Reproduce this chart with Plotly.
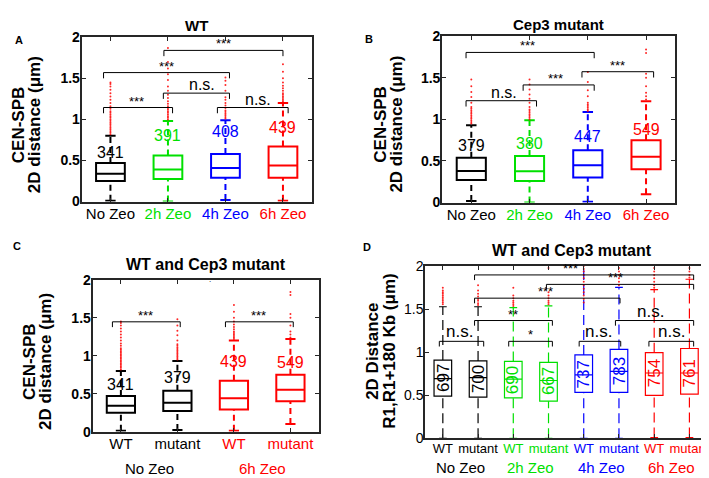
import plotly.graph_objects as go

W, H = 709, 478
FONT = "Liberation Sans, Arial, Helvetica, sans-serif"

# ---------------- DATA ----------------
BLACK, GREEN, BLUE, RED = "#000000", "#00e000", "#0000ff", "#ff0000"

# Panel A (WT): No Zeo, 2h, 4h, 6h
a_labels = ["No Zeo", "2h Zeo", "4h Zeo", "6h Zeo"]
a_colors = [BLACK, GREEN, BLUE, RED]
a_q1 = [0.25, 0.275, 0.29, 0.29]
a_med = [0.34, 0.39, 0.41, 0.44]
a_q3 = [0.47, 0.56, 0.58, 0.67]
a_lo = [0.01, 0.0, 0.02, 0.01]
a_hi = [0.80, 0.98, 0.99, 1.20]
a_n = ["341", "391", "408", "439"]
a_ny = [0.60, 0.80, 0.85, 0.90]
a_out = [
    [0.82, 0.84, 0.86, 0.88, 0.9, 0.92, 0.94, 0.96, 0.98, 1.0, 1.02, 1.04, 1.06, 1.08, 1.1,
     1.13, 1.16, 1.2, 1.24, 1.28, 1.32, 1.36, 1.4, 1.43, 1.45],
    [1.0, 1.02, 1.04, 1.06, 1.08, 1.1, 1.12, 1.14, 1.16, 1.19, 1.22, 1.26, 1.3, 1.35, 1.4,
     1.48, 1.55, 1.62, 1.7, 1.87],
    [1.01, 1.03, 1.05, 1.07, 1.09, 1.11, 1.14, 1.17, 1.2, 1.24, 1.27, 1.35, 1.42, 1.47, 1.51],
    [1.22, 1.24, 1.26, 1.28, 1.3, 1.32, 1.35, 1.38, 1.41, 1.45, 1.5, 1.58, 1.67],
]
# brackets: (x_start, x_end, y, label, label_x)
a_brackets = [
    (0.88, 2.08, 1.145, "***", 1.45),
    (0.88, 3.07, 1.57, "***", 1.97),
    (1.92, 3.07, 1.32, "n.s.", 2.6),
    (2.86, 4.09, 1.145, "n.s.", 3.56),
    (1.93, 4.0, 1.84, "***", 2.96),
]

# Panel B (Cep3 mutant)
b_labels = a_labels
b_colors = a_colors
b_q1 = [0.27, 0.26, 0.30, 0.40]
b_med = [0.38, 0.376, 0.45, 0.55]
b_q3 = [0.54, 0.56, 0.63, 0.75]
b_lo = [0.02, 0.0, 0.01, 0.10]
b_hi = [0.93, 0.99, 1.09, 1.22]
b_n = ["379", "380", "447", "549"]
b_ny = [0.69, 0.71, 0.80, 0.88]
b_out = [
    [0.95, 0.97, 0.99, 1.01, 1.03, 1.05, 1.07, 1.09, 1.11, 1.13, 1.15, 1.2, 1.27, 1.33, 1.4, 1.48],
    [1.0, 1.02, 1.04, 1.06, 1.08, 1.1, 1.12, 1.15, 1.2, 1.25, 1.3, 1.36, 1.42, 1.48],
    [1.1, 1.12, 1.14, 1.16, 1.18, 1.2, 1.28, 1.35, 1.45, 1.57],
    [1.24, 1.28, 1.32, 1.4, 1.5, 1.55, 1.8, 1.84],
]
b_brackets = [
    (0.91, 3.11, 1.806, "***", 1.97),
    (0.91, 2.12, 1.225, "n.s.", 1.57),
    (1.89, 3.11, 1.415, "***", 2.45),
    (2.90, 4.13, 1.574, "***", 3.51),
]

# Panel C (WT and Cep3 mutant: No Zeo WT, No Zeo mutant, 6h WT, 6h mutant)
c_labels = ["WT", "mutant", "WT", "mutant"]
c_colors = [BLACK, BLACK, RED, RED]
c_groups = ["No Zeo", "6h Zeo"]
c_group_colors = [BLACK, RED]
c_q1 = [a_q1[0], b_q1[0], a_q1[3], b_q1[3]]
c_med = [a_med[0], b_med[0], a_med[3], b_med[3]]
c_q3 = [a_q3[0], b_q3[0], a_q3[3], b_q3[3]]
c_lo = [a_lo[0], b_lo[0], a_lo[3], b_lo[3]]
c_hi = [a_hi[0], b_hi[0], a_hi[3], b_hi[3]]
c_n = ["341", "379", "439", "549"]
c_ny = [0.62, 0.71, 0.92, 0.91]
c_out = [a_out[0], b_out[0], a_out[3], b_out[3]]
c_brackets = [
    (0.85, 2.05, 1.447, "***", 1.43),
    (2.85, 4.05, 1.447, "***", 3.44),
]

# Panel D (R1, R1+180 Kb)
d_labels = ["WT", "mutant"] * 4
d_colors = [BLACK, BLACK, GREEN, GREEN, BLUE, BLUE, RED, RED]
d_groups = ["No Zeo", "2h Zeo", "4h Zeo", "6h Zeo"]
d_group_colors = [BLACK, GREEN, BLUE, RED]
d_q1 = [0.49, 0.48, 0.47, 0.432, 0.534, 0.534, 0.50, 0.515]
d_med = [0.695, 0.707, 0.688, 0.673, 0.737, 0.78, 0.76, 0.76]
d_q3 = [0.91, 0.90, 0.895, 0.883, 0.97, 1.034, 0.996, 1.045]
d_lo = [0.0, 0.0, 0.0, 0.0, 0.0, 0.0, 0.01, 0.01]
d_hi = [1.53, 1.53, 1.52, 1.54, 2.05, 1.755, 1.73, 1.85]
d_n = ["697", "700", "690", "667", "737", "783", "754", "761"]
d_ny = [0.70, 0.69, 0.68, 0.66, 0.74, 0.78, 0.76, 0.76]
d_out = [
    [1.56, 1.58, 1.6, 1.62, 1.64, 1.66, 1.68, 1.7, 1.72, 1.75],
    [1.55, 1.57, 1.6, 1.62, 1.65, 1.68, 1.72, 1.78],
    [1.54, 1.56, 1.58, 1.6, 1.63, 1.66, 1.75],
    [1.56, 1.58, 1.6, 1.63, 1.66, 1.7, 1.98],
    [1.58, 1.62, 1.66, 1.7, 1.74, 1.78, 1.82, 1.86, 1.9, 1.94, 1.97, 2.0],
    [1.78, 1.82, 1.86, 1.9, 1.94, 1.98],
    [1.75, 1.78, 1.82, 1.86, 1.9, 1.94, 1.98],
    [1.87, 1.9, 1.94, 1.98],
]
d_brackets = [
    (1.90, 8.12, 1.90, "***", 4.63),
    (3.94, 8.12, 1.79, "***", 5.90),
    (1.90, 6.03, 1.63, "***", 3.92),
    (1.90, 4.11, 1.37, "**", 2.98),
    (5.90, 8.12, 1.37, "n.s.", 6.90),
    (0.90, 2.16, 1.128, "n.s.", 1.47),
    (2.87, 4.11, 1.128, "*", 3.50),
    (4.87, 6.05, 1.128, "n.s.", 5.43),
    (6.85, 8.12, 1.128, "n.s.", 7.50),
]

# ---------------- LAYOUT HELPERS ----------------
def dom_x(l, r):
    return [l / W, r / W]


def dom_y(t, b):
    return [1 - b / H, 1 - t / H]


fig = go.Figure()
annotations = []


def add_panel(ax, colors, q1, med, q3, lo, hi, nums, ny, outs, brackets,
              box_lw, wdash, cap_hw, num_rot, num_size, ast_size, ns_size, drop):
    xa = "x" if ax == 1 else f"x{ax}"
    ya = "y" if ax == 1 else f"y{ax}"
    for i in range(len(colors)):
        pos = i + 1
        c = colors[i]
        # whiskers (dashed)
        fig.add_trace(go.Scatter(
            x=[pos, pos, None, pos, pos], y=[q3[i], hi[i], None, lo[i], q1[i]],
            mode="lines", line=dict(color=c, width=box_lw, dash=wdash),
            xaxis=xa, yaxis=ya, showlegend=False, hoverinfo="skip"))
        # caps
        fig.add_trace(go.Scatter(
            x=[pos - cap_hw, pos + cap_hw, None, pos - cap_hw, pos + cap_hw],
            y=[hi[i], hi[i], None, lo[i], lo[i]],
            mode="lines", line=dict(color=c, width=box_lw),
            xaxis=xa, yaxis=ya, showlegend=False, hoverinfo="skip"))
        # box
        fig.add_trace(go.Box(
            x=[pos], q1=[q1[i]], median=[med[i]], q3=[q3[i]],
            lowerfence=[q1[i]], upperfence=[q3[i]],
            width=0.5, whiskerwidth=0, line=dict(color=c, width=box_lw),
            fillcolor="rgba(255,255,255,0)", boxpoints=False,
            xaxis=xa, yaxis=ya, showlegend=False, hoverinfo="skip"))
        # outliers
        fig.add_trace(go.Scatter(
            x=[pos] * len(outs[i]), y=outs[i], mode="markers",
            marker=dict(color=RED, size=2, symbol="circle", opacity=0.85),
            xaxis=xa, yaxis=ya, showlegend=False, hoverinfo="skip", cliponaxis=True))
        # counts
        annotations.append(dict(
            x=pos, y=ny[i], xref=xa, yref=ya, text=nums[i], showarrow=False,
            textangle=num_rot, font=dict(family=FONT, size=num_size, color=c)))
    # significance brackets
    for (x0, x1, yb, lab, lx) in brackets:
        fig.add_trace(go.Scatter(
            x=[x0, x0, x1, x1], y=[yb - drop, yb, yb, yb - drop], mode="lines",
            line=dict(color="#000000", width=1), xaxis=xa, yaxis=ya,
            showlegend=False, hoverinfo="skip"))
        is_ast = "*" in lab
        annotations.append(dict(
            x=lx, y=yb, xref=xa, yref=ya, text=lab, showarrow=False,
            yanchor="bottom", yshift=(-3 if is_ast else -2),
            font=dict(family=FONT, size=(ast_size if is_ast else ns_size), color="#000000")))


add_panel(1, a_colors, a_q1, a_med, a_q3, a_lo, a_hi, a_n, a_ny, a_out, a_brackets,
          2, "6px,4px", 0.09, 0, 16, 13, 16, 0.07)
add_panel(2, b_colors, b_q1, b_med, b_q3, b_lo, b_hi, b_n, b_ny, b_out, b_brackets,
          2, "6px,4px", 0.09, 0, 16, 13, 16, 0.07)
add_panel(3, c_colors, c_q1, c_med, c_q3, c_lo, c_hi, c_n, c_ny, c_out, c_brackets,
          2, "6px,4px", 0.09, 0, 16, 13, 16, 0.07)
add_panel(4, d_colors, d_q1, d_med, d_q3, d_lo, d_hi, d_n, d_ny, d_out, d_brackets,
          1.2, "10px,5px", 0.11, -90, 17, 13, 17, 0.06)


def colored(labels, colors):
    return [f'<span style="color:{c}">{t}</span>' for t, c in zip(labels, colors)]


AXC = "#262626"


def xaxis(dom, n, labels, colors, size):
    return dict(domain=dom, range=[0.5, n + 0.5], tickvals=list(range(1, n + 1)),
                ticktext=colored(labels, colors), ticks="inside", ticklen=4,
                tickcolor=AXC, showline=True, linecolor=AXC, linewidth=2, mirror="ticks",
                showgrid=False, zeroline=False, fixedrange=True, ticklabelstandoff=-3,
                tickfont=dict(family=FONT, size=size, color="#000000"))


def yaxis(dom, anchor, bold, size):
    return dict(domain=dom, anchor=anchor, range=[0, 2], tickvals=[0, 0.5, 1, 1.5, 2],
                ticktext=["0", "0.5", "1", "1.5", "2"], ticks="inside", ticklen=4,
                tickcolor=AXC, showline=True, linecolor=AXC, linewidth=2, mirror="ticks",
                showgrid=False, zeroline=False, fixedrange=True, ticklabelstandoff=-3,
                tickfont=dict(family=FONT, size=size, color="#000000",
                              weight=("bold" if bold else "normal")))


A_X, A_Y = (74, 305), (22, 192)
B_X, B_Y = (436, 670), (21, 193)
C_X, C_Y = (85, 312), (273, 430)
D_X, D_Y = (419, 702), (259, 437)

layout = dict(
    width=W, height=H, margin=dict(l=0, r=0, t=0, b=0),
    paper_bgcolor="white", plot_bgcolor="white", boxmode="overlay",
    showlegend=False,
    xaxis=dict(xaxis(dom_x(*A_X), 4, a_labels, a_colors, 15), anchor="y"),
    yaxis=yaxis(dom_y(*A_Y), "x", True, 14),
    xaxis2=dict(xaxis(dom_x(*B_X), 4, b_labels, b_colors, 15), anchor="y2"),
    yaxis2=yaxis(dom_y(*B_Y), "x2", True, 14),
    xaxis3=dict(xaxis(dom_x(*C_X), 4, c_labels, c_colors, 15), anchor="y3"),
    yaxis3=yaxis(dom_y(*C_Y), "x3", True, 14),
    xaxis4=dict(xaxis(dom_x(*D_X), 8, d_labels, d_colors, 13), anchor="y4"),
    yaxis4=yaxis(dom_y(*D_Y), "x4", False, 14),
)


def paper_ann(x, y, text, size, bold=True, angle=0, color="#000000", xanchor="center"):
    annotations.append(dict(
        x=x / W, y=1 - y / H, xref="paper", yref="paper", text=text, showarrow=False,
        textangle=angle, xanchor=xanchor, yanchor="middle",
        font=dict(family=FONT, size=size, color=color, weight=("bold" if bold else "normal"))))


# titles
paper_ann((A_X[0] + A_X[1]) / 2, 10, "WT", 15)
paper_ann((B_X[0] + B_X[1]) / 2, 9, "Cep3 mutant", 15)
paper_ann((C_X[0] + C_X[1]) / 2, 257, "WT and Cep3 mutant", 16)
paper_ann((D_X[0] + D_X[1]) / 2 + 6, 243, "WT and Cep3 mutant", 16)
paper_ann(203, 273, ".", 8, bold=False)
# panel letters
paper_ann(11, 25, "A", 11)
paper_ann(363, 24, "B", 11)
paper_ann(9, 238, "C", 11)
paper_ann(361, 239, "D", 11)
# y-axis titles
for (lx1, lx2, cy) in [(10, 26, 112), (374, 390, 112), (21, 37, 357)]:
    paper_ann(lx1, cy, "CEN-SPB", 17, angle=-90)
    paper_ann(lx2, cy, "2D distance (μm)", 17, angle=-90)
paper_ann(366, 347, "2D Distance", 17, angle=-90)
paper_ann(383, 347, "R1,R1+180 Kb (μm)", 17, angle=-90)

# group labels below C and D
for gi, (g, gc) in enumerate(zip(c_groups, c_group_colors)):
    annotations.append(dict(x=2 * gi + 1.5, y=1 - 468 / H, xref="x3", yref="paper", text=g,
                            showarrow=False, yanchor="middle",
                            font=dict(family=FONT, size=15, color=gc)))
for gi, (g, gc) in enumerate(zip(d_groups, d_group_colors)):
    annotations.append(dict(x=2 * gi + 1.5, y=1 - 467 / H, xref="x4", yref="paper", text=g,
                            showarrow=False, yanchor="middle",
                            font=dict(family=FONT, size=15, color=gc)))

layout["annotations"] = annotations
fig.update_layout(**layout)
fig.write_html("out.html")
